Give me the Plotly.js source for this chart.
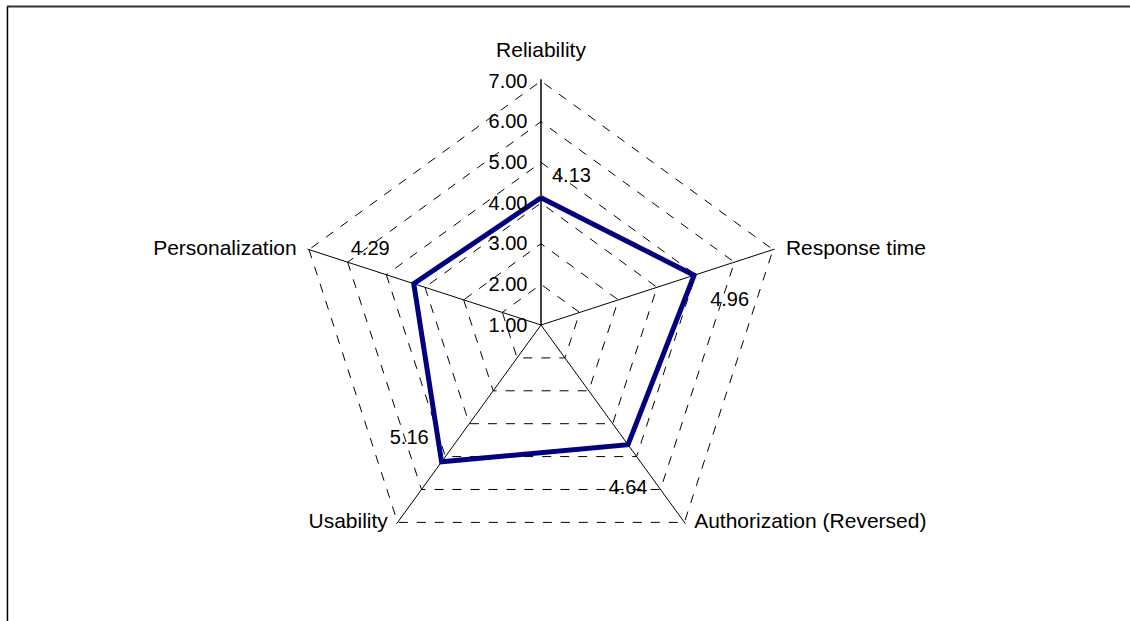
<!DOCTYPE html>
<html>
<head>
<meta charset="utf-8">
<script src="https://cdn.plot.ly/plotly-3.0.1.min.js"></script>
<style>html,body{margin:0;padding:0;background:#fff;}#chart{width:1130px;height:621px;}</style>
</head>
<body>
<div id="chart"></div>
<script>
const categories = ["Reliability", "Response time", "Authorization (Reversed)", "Usability", "Personalization"];
const scores = [4.13, 4.96, 4.64, 5.16, 4.29];
const radialTicks = [1, 2, 3, 4, 5, 6, 7];
const valueLabelPositions = ["top right", "bottom right", "bottom center", "top left", "top left"];
const valueLabelOffsets = [16, 24, 53, 19, 37];
const categoryLabelPositions = ["top center", "middle right", "middle right", "middle left", "middle left"];
const categoryLabelOffsets = [29, 19, 14, 14, 18];

const outerValue = radialTicks[radialTicks.length - 1];
const closedTheta = categories.concat([categories[0]]);
const closedR = scores.concat([scores[0]]);
const FONT = "Liberation Sans, Arial, sans-serif";

const traces = [
  {
    type: "scatterpolar",
    r: closedR,
    theta: closedTheta,
    mode: "lines",
    line: {color: "#000080", width: 5},
    hoverinfo: "skip",
    showlegend: false
  },
  {
    type: "scatterpolar",
    r: scores,
    theta: categories,
    mode: "markers+text",
    marker: {size: valueLabelOffsets, color: "rgba(0,0,0,0)", line: {width: 0}},
    text: scores.map(v => v.toFixed(2)),
    textposition: valueLabelPositions,
    textfont: {family: FONT, size: 20, color: "#000"},
    cliponaxis: false,
    hoverinfo: "skip",
    showlegend: false
  },
  {
    type: "scatterpolar",
    r: categories.map(() => outerValue),
    theta: categories,
    mode: "markers+text",
    marker: {size: categoryLabelOffsets, color: "rgba(0,0,0,0)", line: {width: 0}},
    text: categories,
    textposition: categoryLabelPositions,
    textfont: {family: FONT, size: 21, color: "#000"},
    cliponaxis: false,
    hoverinfo: "skip",
    showlegend: false
  }
];

const layout = {
  width: 1130,
  height: 621,
  margin: {l: 0, r: 0, t: 0, b: 0},
  paper_bgcolor: "#fff",
  plot_bgcolor: "#fff",
  font: {family: FONT, size: 20, color: "#000"},
  showlegend: false,
  polar: {
    domain: {x: [0.26142, 0.69611], y: [0.08116, 0.87214]},
    gridshape: "linear",
    bgcolor: "#fff",
    radialaxis: {
      range: [1, 7.04],
      tickvals: radialTicks,
      ticktext: radialTicks.map(v => v.toFixed(2)),
      angle: 90,
      side: "counterclockwise",
      tickangle: 90,
      showline: true,
      linecolor: "#000",
      linewidth: 1,
      showgrid: true,
      gridcolor: "#000",
      gridwidth: 1,
      griddash: "dash",
      ticks: "outside",
      ticklen: 6,
      tickcolor: "rgba(0,0,0,0)",
      tickfont: {size: 20, color: "#000"}
    },
    angularaxis: {
      direction: "clockwise",
      rotation: 90,
      showline: false,
      showgrid: true,
      gridcolor: "#000",
      gridwidth: 1,
      ticks: "",
      showticklabels: false
    }
  },
  shapes: [
    {type: "line", xref: "paper", yref: "paper", x0: 0.0062, x1: 1, y0: 0.9895, y1: 0.9895, line: {color: "#333", width: 2}},
    {type: "line", xref: "paper", yref: "paper", x0: 0.0066, x1: 0.0066, y0: 0, y1: 0.9895, line: {color: "#000", width: 1.5}}
  ]
};

Plotly.newPlot("chart", traces, layout, {displayModeBar: false, staticPlot: true});
</script>
</body>
</html>
